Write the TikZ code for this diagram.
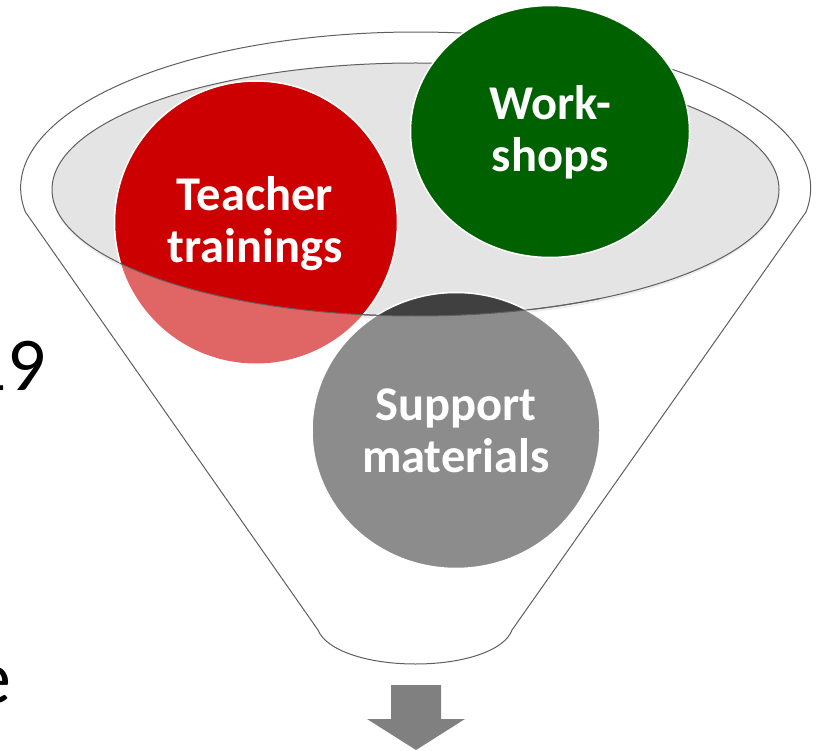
\documentclass[tikz,border=0pt]{standalone}
\usepackage{fontspec}
\setmainfont{Carlito}
\definecolor{fred}{HTML}{CC0000}
\definecolor{fredl}{HTML}{E06666}
\definecolor{fgreen}{HTML}{006100}
\definecolor{fgray}{HTML}{8C8C8C}
\definecolor{fdark}{HTML}{404040}
\definecolor{frim}{HTML}{E4E4E4}
\definecolor{fline}{HTML}{5F5F5F}
\definecolor{farrow}{HTML}{808080}
\tikzset{
 x=1pt,y=-1pt,
 lbl/.style={text=white,font=\bfseries\fontsize{48.5}{52}\selectfont,align=center,inner sep=0pt},
 side/.style={text=black,font=\fontsize{76}{80}\selectfont,inner sep=0pt},
 circ/.style={draw=white,line width=1.5pt},
 funnelline/.style={draw=fline,line width=1pt}
}
\newcommand{\innerell}{(415.5,189.5) ellipse [x radius=363.5pt,y radius=126.5pt]}
\begin{document}
\begin{tikzpicture}
\useasboundingbox (0,0) rectangle (819,751);
\clip (0,0) rectangle (819,751);
\node[side,anchor=base east] (num) at (46,390) {19};
\node[side,anchor=base east] (frag) at (12,703) {e};
% funnel outline
\path[funnelline,fill=white] (25.4,212) arc [start angle=188.85,end angle=-8.85,x radius=395pt,y radius=156pt]
  -- (512,630) .. controls (505,650) and (465,664) .. (415.5,664)
  .. controls (366,664) and (326,650) .. (318,630) -- cycle;
% inner ellipse
\fill[black!7] (415.5,192) ellipse [x radius=363pt,y radius=127pt];
\path[fill=frim,funnelline] \innerell;
% red
\fill[fredl] (256,222.5) circle [radius=141pt];
\begin{scope}
\clip \innerell;
\fill[fred] (256,222.5) circle [radius=141pt];
\end{scope}
\begin{scope}
\clip \innerell;
\draw[white,line width=1.5pt] (256,222.5) circle [radius=141.5pt];
\end{scope}
% green
\path[fill=fgreen,circ] (550,131.5) ellipse [x radius=139.5pt,y radius=126pt];
% gray
\path[fill=fgray,circ] (456,430.5) ellipse [x radius=144pt,y radius=138pt];
\begin{scope}
\clip \innerell;
\fill[fdark] (456,430.5) ellipse [x radius=143pt,y radius=137pt];
\end{scope}
% front edge of the inner ellipse
\begin{scope}
\clip (120,262) rectangle (600,330);
\path[funnelline] \innerell;
\end{scope}
\node[lbl] (teacher) at (255,224) {Teacher\\trainings};
\node[lbl] (work) at (550,132) {Work-\\shops};
\node[lbl] (support) at (456,431) {Support\\materials};
% arrow
\fill[farrow] (391,685) -- (441,685) -- (441,719) -- (465,719) -- (416,750) -- (367,719) -- (391,719) -- cycle;
\end{tikzpicture}
\end{document}
